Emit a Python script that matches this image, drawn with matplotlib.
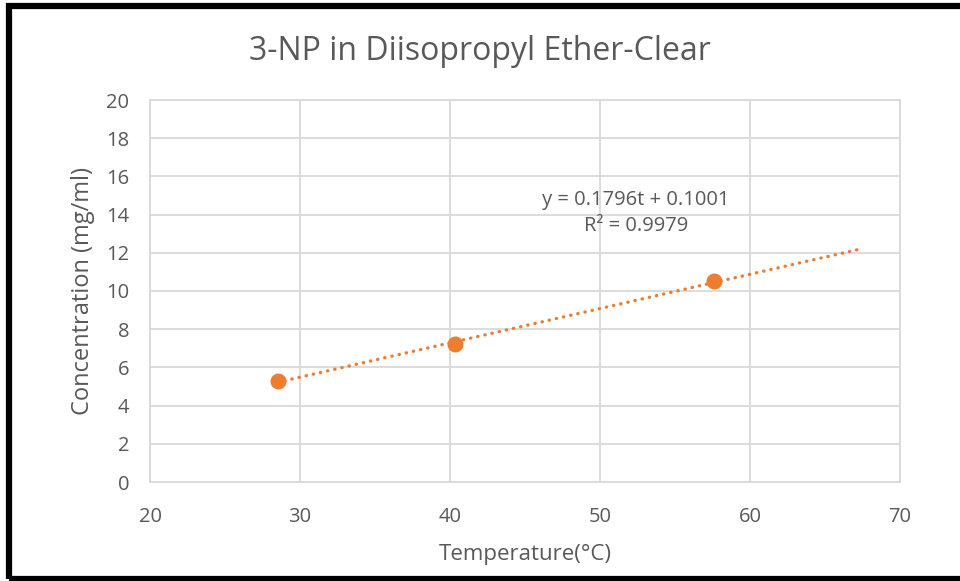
import numpy as np
import matplotlib.pyplot as plt
from matplotlib.patches import Rectangle

# data
temps = [28.5, 40.3, 57.6]
conc = [5.3, 7.2, 10.5]
trend_range = [28.5, 67.5]
slope = 0.1796
intercept = 0.1001
r2 = 0.9979

xticks = [20, 30, 40, 50, 60, 70]
yticks = [0, 2, 4, 6, 8, 10, 12, 14, 16, 18, 20]

orange = '#ED7D31'
grey_text = '#595959'
grid_col = '#D9D9D9'

plt.rcParams['font.family'] = ['Open Sans', 'DejaVu Sans']

fig = plt.figure(figsize=(9.6, 5.81), dpi=100)
ax = fig.add_axes([150/960, 1 - 482/581, 750/960, 382/581])

tx = np.array(trend_range)
ax.plot(tx, slope * tx + intercept, color=orange, lw=2.4, linestyle=(0, (0.1, 2.1)),
        dash_capstyle='round', zorder=2)
ax.plot(temps, conc, 'o', color=orange, markersize=10.5, zorder=3)

ax.set_xlim(20, 70)
ax.set_ylim(0, 20)
ax.set_xticks(xticks)
ax.set_yticks(yticks)
ax.grid(True, color=grid_col, lw=1.3)
ax.set_axisbelow(True)
for s in ax.spines.values():
    s.set_color(grid_col)
    s.set_linewidth(1.3)
ax.tick_params(length=0, labelsize=14.5, labelcolor=grey_text)
ax.tick_params(axis='x', pad=18)
ax.tick_params(axis='y', pad=15)

ax.set_xlabel('Temperature(°C)', fontsize=16, color=grey_text, labelpad=12)
ax.set_ylabel('Concentration (mg/ml)', fontsize=17, color=grey_text, labelpad=8)
fig.text(0.5, 1 - 52/581, '3-NP in Diisopropyl Ether-Clear', ha='center', va='center',
         fontsize=23, color=grey_text)

ax.text(636/960, 1 - 213/581, f'y = {slope}t + {intercept}\nR² = {r2}', transform=fig.transFigure,
        ha='center', va='center', fontsize=14.5, color=grey_text, linespacing=1.45)

# thick black frame around the chart
fig.patches.append(Rectangle((9/960, 2/581), 1.0, 1 - 8/581, transform=fig.transFigure,
                             fill=False, edgecolor='black', lw=4.5))

fig.savefig('out.png', dpi=100)
